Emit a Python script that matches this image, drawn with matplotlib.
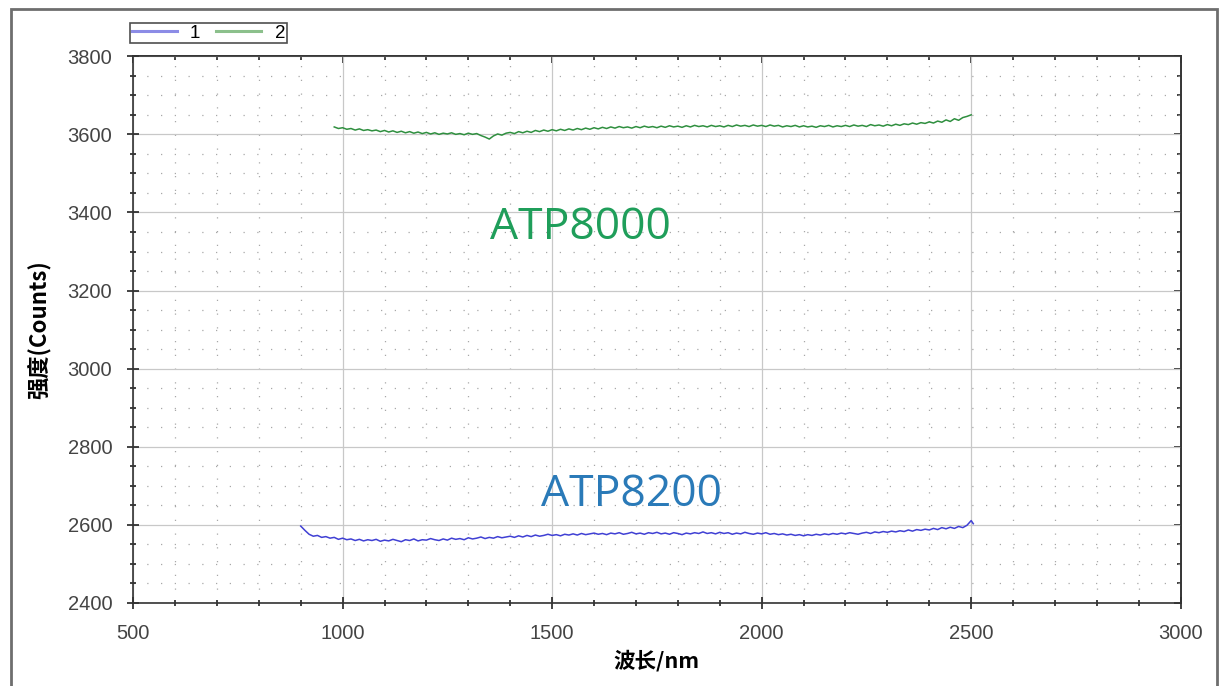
# -*- coding:utf-8 -*-
import numpy as np
import matplotlib.pyplot as plt
from matplotlib.ticker import MultipleLocator, NullFormatter
from matplotlib.patches import Rectangle

plt.rcParams['font.family'] = ['Liberation Sans', 'Noto Sans CJK SC', 'DejaVu Sans']

# 曲线1 (ATP8200), 900-2500 nm, 步长 10 nm, 末点 2505
wl1 = list(np.arange(900, 2510, 10)) + [2505]
counts1 = [2597, 2586, 2576, 2571, 2573, 2568, 2570, 2566, 2568, 2563,
           2566, 2562, 2564, 2560, 2563, 2559, 2562, 2560, 2563, 2558,
           2561, 2559, 2563, 2560, 2557, 2562, 2560, 2564, 2559, 2562,
           2561, 2565, 2562, 2560, 2564, 2561, 2566, 2563, 2565, 2562,
           2567, 2564, 2566, 2569, 2565, 2568, 2566, 2570, 2567, 2569,
           2571, 2568, 2572, 2569, 2573, 2570, 2574, 2571, 2573, 2576,
           2573, 2575, 2572, 2576, 2574, 2577, 2574, 2578, 2575, 2577,
           2579, 2576, 2578, 2575, 2579, 2577, 2580, 2576, 2578, 2581,
           2577, 2579, 2576, 2580, 2578, 2581, 2577, 2579, 2576, 2580,
           2578, 2575, 2579, 2577, 2580, 2578, 2582, 2578, 2580, 2577,
           2581, 2578, 2580, 2576, 2579, 2577, 2581, 2578, 2576, 2579,
           2577, 2580, 2576, 2578, 2575, 2577, 2574, 2576, 2573, 2575,
           2572, 2575, 2573, 2576, 2574, 2577, 2575, 2578, 2576, 2579,
           2577, 2580, 2578, 2576, 2579, 2581, 2578, 2582, 2580, 2583,
           2581, 2584, 2582, 2585, 2583, 2587, 2584, 2588, 2586, 2589,
           2587, 2591, 2588, 2593, 2590, 2594, 2591, 2596, 2593, 2599,
           2611, 2603]

# 曲线2 (ATP8000), 980-2500 nm, 步长 10 nm
wl2 = list(np.arange(980, 2510, 10))
counts2 = [3619, 3615,
           3617, 3613, 3615, 3611, 3614, 3610, 3612, 3609, 3611, 3607,
           3610, 3606, 3609, 3605, 3608, 3604, 3607, 3603, 3606, 3602,
           3605, 3601, 3604, 3600, 3603, 3601, 3604, 3600, 3602, 3599,
           3603, 3600, 3602, 3597, 3593, 3588, 3596, 3601, 3598, 3603,
           3605, 3602, 3607, 3604, 3608, 3605, 3610, 3607, 3611, 3608,
           3612, 3609, 3613, 3610, 3614, 3611, 3615, 3612, 3616, 3613,
           3617, 3614, 3618, 3615, 3619, 3616, 3620, 3617, 3619, 3616,
           3620, 3617, 3621, 3618, 3620, 3617, 3621, 3618, 3622, 3619,
           3621, 3618, 3622, 3619, 3623, 3620, 3622, 3619, 3623, 3620,
           3622, 3619, 3623, 3620, 3624, 3621, 3623, 3620, 3624, 3621,
           3623, 3620, 3624, 3621, 3623, 3619, 3622, 3620, 3623, 3619,
           3622, 3619, 3621, 3618, 3622, 3620, 3623, 3619, 3622, 3620,
           3623, 3620, 3624, 3621, 3623, 3620, 3625, 3622, 3624, 3621,
           3625, 3622, 3626, 3623, 3627, 3625, 3629, 3626, 3630, 3628,
           3632, 3629, 3634, 3631, 3637, 3633, 3640, 3636, 3643, 3646,
           3650]

fig = plt.figure(figsize=(12.21, 6.86), dpi=100)
ax = fig.add_axes([0.109, 0.121, 0.858, 0.797])

# 外框
fig.patches.append(Rectangle((0.009, -0.05), 0.988, 1.037, transform=fig.transFigure,
                             fill=False, edgecolor='#6e6e6e', linewidth=2))

ax.plot(wl1, counts1, color='#4040d4', linewidth=1.1, label='1')
ax.plot(wl2, counts2, color='#2f8f3f', linewidth=1.1, label='2')

ax.set_xlim(500, 3000)
ax.set_ylim(2400, 3800)
ax.xaxis.set_major_locator(MultipleLocator(500))
ax.xaxis.set_minor_locator(MultipleLocator(100))
ax.yaxis.set_major_locator(MultipleLocator(200))
ax.yaxis.set_minor_locator(MultipleLocator(50))

ax.grid(which='major', color='#c8c8c8', linewidth=0.9)
ax.grid(which='minor', color='#a8a8a8', linewidth=0.9, linestyle=(0, (1, 10)))
ax.set_axisbelow(True)

ax.tick_params(which='both', direction='inout', colors='#222222',
               labelcolor='#444444', labelsize=14.5, pad=11)
ax.tick_params(which='major', length=8, width=1.2)
ax.tick_params(which='minor', length=5, width=1.2)
for s in ax.spines.values():
    s.set_color('#333333')
    s.set_linewidth(1.2)

# 上、右边框的内向刻度 (无标签)
top = ax.secondary_xaxis('top')
top.xaxis.set_major_locator(MultipleLocator(500))
top.xaxis.set_minor_locator(MultipleLocator(100))
top.xaxis.set_major_formatter(NullFormatter())
right = ax.secondary_yaxis('right')
right.yaxis.set_major_locator(MultipleLocator(200))
right.yaxis.set_minor_locator(MultipleLocator(50))
right.yaxis.set_major_formatter(NullFormatter())
for sec in (top, right):
    sec.tick_params(which='both', direction='in', colors='#222222', width=1.2)
    sec.tick_params(which='major', length=5)
    sec.tick_params(which='minor', length=3)
    for s in sec.spines.values():
        s.set_color('#333333')
        s.set_linewidth(1.2)

ax.set_xlabel('波长/nm', fontsize=15.5, fontweight='bold',
              family=['Noto Sans CJK SC', 'DejaVu Sans'], labelpad=5)
ax.set_ylabel('强度(Counts)', fontsize=16, fontweight='bold',
              family=['Noto Sans CJK SC', 'DejaVu Sans'], labelpad=12)

ax.text(1567, 3360, 'ATP8000', color='#1f9e5a', fontsize=32, ha='center', va='center',
        family=['Open Sans', 'DejaVu Sans'])
ax.text(1689, 2676, 'ATP8200', color='#2a7ab8', fontsize=32, ha='center', va='center',
        family=['Open Sans', 'DejaVu Sans'])

leg = ax.legend(loc='lower left', bbox_to_anchor=(-0.015, 1.0), ncol=2, frameon=True,
                fancybox=False, edgecolor='#222222', fontsize=13.5, handlelength=2.4,
                borderpad=0.08, columnspacing=0.85, handletextpad=0.7, borderaxespad=0.7)
leg.get_frame().set_linewidth(1.2)
leg_colors = ['#8c8ce6', '#8cc08c']
for h, c in zip(leg.get_lines(), leg_colors):
    h.set_color(c)
    h.set_linewidth(2.2)

fig.savefig('out.png', dpi=100)
